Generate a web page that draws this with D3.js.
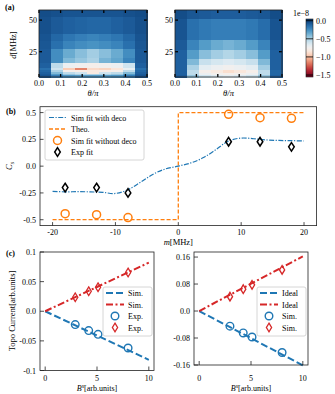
<!DOCTYPE html>
<html>
<head>
<meta charset="utf-8">
<script src="https://cdn.jsdelivr.net/npm/d3@7"></script>
<style>
body { margin: 0; background: #fff; }
text { font-family: "Liberation Serif", "DejaVu Serif", serif; }
</style>
</head>
<body>
<div id="chart"></div>
<script>
// ---- data ----
var thetaEdges = [0, 0.056, 0.111, 0.167, 0.222, 0.278, 0.333, 0.389, 0.444, 0.5];
var thetaTicks = [0, 0.1, 0.2, 0.3, 0.4, 0.5];
var dTicks = [25, 50];

// rows listed bottom -> top
var dEdges1 = [5, 6.6, 7.6, 9, 10.6, 12.7, 16.1, 20.8, 27.9, 33.7, 39.7, 52.9, 58];
var heat1 = [
	[-0.06, -0.2, -0.28, -0.3, -0.3, -0.3, -0.28, -0.2, -0.06],
	[-0.08, -0.3, -0.45, -0.5, -0.5, -0.5, -0.45, -0.3, -0.08],
	[-0.1, -0.4, -0.55, -0.6, -0.82, -0.6, -0.55, -0.4, -0.1],
	[-0.12, -0.5, -0.78, -0.8, -0.82, -0.8, -0.78, -0.55, -0.12],
	[-0.15, -0.6, -0.95, -1.15, -0.9, -0.92, -0.85, -0.7, -0.15],
	[-0.1, -0.55, -0.72, -0.75, -0.78, -0.75, -0.72, -0.6, -0.1],
	[-0.08, -0.25, -0.4, -0.45, -0.5, -0.38, -0.33, -0.22, -0.08],
	[-0.08, -0.25, -0.35, -0.42, -0.48, -0.42, -0.35, -0.25, -0.08],
	[-0.07, -0.15, -0.22, -0.25, -0.27, -0.25, -0.22, -0.15, -0.07],
	[-0.06, -0.12, -0.17, -0.2, -0.22, -0.2, -0.17, -0.12, -0.06],
	[-0.05, -0.08, -0.1, -0.11, -0.12, -0.12, -0.1, -0.08, -0.05],
	[-0.04, -0.05, -0.06, -0.06, -0.06, -0.06, -0.06, -0.05, -0.04]
];
var dEdges2 = [5, 7, 8.4, 11, 14.9, 20, 26.6, 34.5, 51.6, 58];
var heat2 = [
	[-0.08, -0.45, -0.6, -0.65, -0.68, -0.65, -0.6, -0.45, -0.1],
	[-0.1, -0.55, -0.72, -0.76, -0.78, -0.76, -0.72, -0.55, -0.12],
	[-0.1, -0.55, -0.78, -0.82, -0.88, -0.84, -0.78, -0.55, -0.12],
	[-0.1, -0.5, -0.68, -0.72, -0.75, -0.72, -0.68, -0.48, -0.1],
	[-0.1, -0.4, -0.58, -0.62, -0.65, -0.62, -0.58, -0.4, -0.1],
	[-0.1, -0.3, -0.42, -0.48, -0.52, -0.48, -0.42, -0.3, -0.1],
	[-0.08, -0.22, -0.3, -0.35, -0.38, -0.35, -0.3, -0.22, -0.08],
	[-0.06, -0.15, -0.18, -0.2, -0.2, -0.2, -0.18, -0.14, -0.06],
	[-0.04, -0.07, -0.08, -0.09, -0.09, -0.09, -0.08, -0.07, -0.04]
];
var cbTicks = [0, -0.5, -1.0, -1.5];
var cbLabels = ["0.0", "\u22120.5", "\u22121.0", "\u22121.5"];

// panel (b)
var bTicksX = [-20, -10, 0, 10, 20];
var bTicksY = [0.5, 0.25, 0, -0.25, -0.5];
var bTickLabelsY = ["0.5", "0.25", "0.0", "-0.25", "-0.5"];
var decoM = [-20, -18, -16, -14, -12, -10, -8, -6, -4, -2, 0, 2, 4, 6, 8, 10, 12, 14, 16, 18, 20];
var decoC = [-0.235, -0.24, -0.238, -0.24, -0.245, -0.255, -0.22, -0.15, -0.075, -0.025, 0, 0.03, 0.08, 0.155, 0.235, 0.262, 0.256, 0.245, 0.24, 0.238, 0.235];
var theoM = [-20, 0, 0, 20];
var theoC = [-0.5, -0.5, 0.5, 0.5];
var pointM = [-18, -13, -8, 8, 13, 18];
var noDecoC = [-0.444, -0.453, -0.48, 0.484, 0.453, 0.447];
var expC = [-0.2, -0.2, -0.25, 0.228, 0.228, 0.18];

// panel (c)
var cTicksX = [0, 5, 10];
var lineB = [0, 10];
var leftTicksY = [0.1, 0.05, 0, -0.05, -0.1];
var leftTickLabels = ["0.1", "0.05", "0.0", "-0.05", "-0.1"];
var leftSimBlue = [0, -0.082];
var leftSimRed = [0, 0.082];
var leftB = [2.9, 4.2, 5.1, 8.0];
var leftExpBlue = [-0.0225, -0.0327, -0.039, -0.062];
var leftExpRed = [0.0236, 0.0338, 0.0405, 0.0654];
var rightTicksY = [0.16, 0.08, 0, -0.08, -0.16];
var rightTickLabels = ["0.16", "0.08", "0.0", "-0.08", "-0.16"];
var rightIdealBlue = [0, -0.161];
var rightIdealRed = [0, 0.162];
var rightB = [2.97, 4.25, 5.1, 8.0];
var rightSimBlue = [-0.0448, -0.065, -0.077, -0.123];
var rightSimRed = [0.0427, 0.0648, 0.0776, 0.122];

// ---- drawing ----
var blue = "#1f77b4", orange = "#ff7f0e", red = "#d62728";
var vmin = -1.555, vmax = 0.047;
function heatColor(v) {
	return d3.interpolateRdBu((v - vmin) / (vmax - vmin));
}

var svg = d3.select("#chart").append("svg")
	.attr("width", 335).attr("height", 394);

function txt(x, y, s, size, anchor) {
	return svg.append("text").attr("x", x).attr("y", y)
		.attr("font-size", size).attr("text-anchor", anchor || "middle").text(s);
}

function frame(x0, x1, y0, y1) {
	svg.append("rect").attr("x", x0).attr("y", y0)
		.attr("width", x1 - x0).attr("height", y1 - y0)
		.attr("fill", "none").attr("stroke", "#222").attr("stroke-width", 0.8);
}

function diamond(w, h) {
	return "M0," + (-h) + "L" + w + ",0L0," + h + "L" + (-w) + ",0Z";
}

function drawHeat(x0, x1, y0, y1, edges, vals) {
	var x = d3.scaleLinear().domain([0, 0.5]).range([x0, x1]);
	var y = d3.scaleLinear().domain([5, 58]).range([y1, y0]);
	var g = svg.append("g").attr("shape-rendering", "crispEdges");
	vals.forEach(function (row, r) {
		row.forEach(function (v, c) {
			g.append("rect")
				.attr("x", x(thetaEdges[c]))
				.attr("y", y(edges[r + 1]))
				.attr("width", x(thetaEdges[c + 1]) - x(thetaEdges[c]) + 0.5)
				.attr("height", y(edges[r]) - y(edges[r + 1]) + 0.5)
				.attr("fill", heatColor(v));
		});
	});
	// inward ticks on all sides
	var tk = svg.append("g").attr("stroke", "#000").attr("stroke-width", 1.3);
	thetaTicks.forEach(function (t) {
		tk.append("line").attr("x1", x(t)).attr("x2", x(t)).attr("y1", y1).attr("y2", y1 - 3);
		tk.append("line").attr("x1", x(t)).attr("x2", x(t)).attr("y1", y0).attr("y2", y0 + 3);
		txt(x(t), y1 + 9, d3.format(".1f")(t), 8);
	});
	dTicks.forEach(function (d) {
		tk.append("line").attr("x1", x0).attr("x2", x0 + 3).attr("y1", y(d)).attr("y2", y(d));
		tk.append("line").attr("x1", x1).attr("x2", x1 - 3).attr("y1", y(d)).attr("y2", y(d));
		txt(x0 - 2, y(d) + 3, d, 8, "end");
	});
	frame(x0, x1, y0, y1);
	txt((x0 + x1) / 2, y1 + 19, "\u03b8/\u03c0", 8.5).attr("font-style", "italic");
}

// panel (a)
txt(5, 10, "(a)", 8, "start").attr("font-weight", "bold");
drawHeat(39, 147, 10, 77, dEdges1, heat1);
drawHeat(175, 282, 10, 77, dEdges2, heat2);
svg.append("text").attr("transform", "translate(16,45) rotate(-90)")
	.attr("text-anchor", "middle").attr("font-size", 8.5)
	.html('<tspan font-style="italic">d</tspan>[MHz]');

// colorbar
var cbY = d3.scaleLinear().domain([vmin, vmax]).range([77, 19]);
var defs = svg.append("defs");
var grad = defs.append("linearGradient").attr("id", "cbgrad")
	.attr("x1", 0).attr("y1", 1).attr("x2", 0).attr("y2", 0);
d3.range(0, 1.0001, 0.05).forEach(function (t) {
	grad.append("stop").attr("offset", t).attr("stop-color", d3.interpolateRdBu(t));
});
svg.append("rect").attr("x", 306).attr("y", 19).attr("width", 7).attr("height", 58)
	.attr("fill", "url(#cbgrad)").attr("stroke", "#222").attr("stroke-width", 0.6);
cbTicks.forEach(function (v, i) {
	svg.append("line").attr("x1", 306).attr("x2", 313).attr("y1", cbY(v)).attr("y2", cbY(v))
		.attr("stroke", "#000").attr("stroke-width", 0.8);
	txt(316, cbY(v) + 3, cbLabels[i], 8, "start");
});
txt(301, 16, "1e\u22128", 8);

// panel (b)
var bx0 = 40, bx1 = 316.6, by0 = 106.7, by1 = 225.6;
var xb = d3.scaleLinear().domain([-22, 22]).range([bx0, bx1]);
var yb = d3.scaleLinear().domain([-0.555, 0.555]).range([by1, by0]);
txt(6, 114, "(b)", 8, "start").attr("font-weight", "bold");

svg.append("path")
	.datum(theoM.map(function (m, i) { return [m, theoC[i]]; }))
	.attr("fill", "none").attr("stroke", orange).attr("stroke-width", 1.3)
	.attr("stroke-dasharray", "4,2")
	.attr("d", d3.line().x(function (d) { return xb(d[0]); }).y(function (d) { return yb(d[1]); }));

svg.append("path")
	.datum(decoM.map(function (m, i) { return [m, decoC[i]]; }))
	.attr("fill", "none").attr("stroke", blue).attr("stroke-width", 1.2)
	.attr("stroke-dasharray", "5,1.5,1.2,1.5")
	.attr("d", d3.line().curve(d3.curveCatmullRom)
		.x(function (d) { return xb(d[0]); }).y(function (d) { return yb(d[1]); }));

svg.selectAll(".nodeco").data(pointM).enter().append("circle")
	.attr("cx", function (d) { return xb(d); })
	.attr("cy", function (d, i) { return yb(noDecoC[i]); })
	.attr("r", 4).attr("fill", "none").attr("stroke", orange).attr("stroke-width", 1.5);

svg.selectAll(".expb").data(pointM).enter().append("path")
	.attr("transform", function (d, i) { return "translate(" + xb(d) + "," + yb(expC[i]) + ")"; })
	.attr("d", diamond(2.8, 4.3)).attr("fill", "none")
	.attr("stroke", "#000").attr("stroke-width", 1.5);

frame(bx0, bx1, by0, by1);
var bt = svg.append("g").attr("stroke", "#222").attr("stroke-width", 0.8);
bTicksX.forEach(function (t) {
	bt.append("line").attr("x1", xb(t)).attr("x2", xb(t)).attr("y1", by1).attr("y2", by1 - 3.5);
	txt(xb(t), by1 + 9.5, t, 8);
});
bTicksY.forEach(function (t, i) {
	bt.append("line").attr("x1", bx0).attr("x2", bx0 + 3.5).attr("y1", yb(t)).attr("y2", yb(t));
	txt(bx0 - 4, yb(t) + 3, bTickLabelsY[i], 8, "end");
});
svg.append("text").attr("x", (bx0 + bx1) / 2).attr("y", 245).attr("text-anchor", "middle")
	.attr("font-size", 8.5).html('<tspan font-style="italic">m</tspan>[MHz]');
svg.append("text").attr("transform", "translate(12,166) rotate(-90)")
	.attr("text-anchor", "middle").attr("font-size", 8.5)
	.html('<tspan font-style="italic">C</tspan><tspan font-style="italic" font-size="6" dy="2">s</tspan>');

// legend (b)
svg.append("rect").attr("x", 45).attr("y", 110).attr("width", 99).attr("height", 50).attr("rx", 2)
	.attr("fill", "#fff").attr("fill-opacity", 0.85).attr("stroke", "#ccc").attr("stroke-width", 0.8);
var lb = [117.5, 129, 140.5, 152];
svg.append("line").attr("x1", 49).attr("x2", 66).attr("y1", lb[0]).attr("y2", lb[0])
	.attr("stroke", blue).attr("stroke-width", 1.2).attr("stroke-dasharray", "5,1.5,1.2,1.5");
svg.append("line").attr("x1", 49).attr("x2", 66).attr("y1", lb[1]).attr("y2", lb[1])
	.attr("stroke", orange).attr("stroke-width", 1.3).attr("stroke-dasharray", "4,2");
svg.append("circle").attr("cx", 57.5).attr("cy", lb[2]).attr("r", 4)
	.attr("fill", "none").attr("stroke", orange).attr("stroke-width", 1.5);
svg.append("path").attr("transform", "translate(57.5," + lb[3] + ")").attr("d", diamond(2.8, 4.3))
	.attr("fill", "none").attr("stroke", "#000").attr("stroke-width", 1.5);
["Sim fit with deco", "Theo.", "Sim fit without deco", "Exp fit"].forEach(function (s, i) {
	txt(71, lb[i] + 3, s, 8, "start");
});

// panel (c)
txt(6, 256, "(c)", 8, "start").attr("font-weight", "bold");

function drawC(x0, x1, y1, yDomain, ticksY, tickLabels, lineBlue, lineRed, ptsB, ptsBlue, ptsRed, names) {
	var y0 = 252;
	var x = d3.scaleLinear().domain([-0.5, 10.5]).range([x0, x1]);
	var y = d3.scaleLinear().domain(yDomain).range([y1, y0]);
	var ln = d3.line().x(function (d) { return x(d[0]); }).y(function (d) { return y(d[1]); });
	svg.append("path").datum(lineB.map(function (b, i) { return [b, lineBlue[i]]; }))
		.attr("fill", "none").attr("stroke", blue).attr("stroke-width", 2)
		.attr("stroke-dasharray", "7,3").attr("d", ln);
	svg.append("path").datum(lineB.map(function (b, i) { return [b, lineRed[i]]; }))
		.attr("fill", "none").attr("stroke", red).attr("stroke-width", 2)
		.attr("stroke-dasharray", "7,2.5,2,2.5").attr("d", ln);
	ptsB.forEach(function (b, i) {
		svg.append("circle").attr("cx", x(b)).attr("cy", y(ptsBlue[i])).attr("r", 3.8)
			.attr("fill", "none").attr("stroke", blue).attr("stroke-width", 1.4);
		svg.append("path").attr("transform", "translate(" + x(b) + "," + y(ptsRed[i]) + ")")
			.attr("d", diamond(2.6, 4.3)).attr("fill", "none")
			.attr("stroke", red).attr("stroke-width", 1.3);
	});
	frame(x0, x1, y0, y1);
	var g = svg.append("g").attr("stroke", "#222").attr("stroke-width", 0.8);
	cTicksX.forEach(function (t) {
		g.append("line").attr("x1", x(t)).attr("x2", x(t)).attr("y1", y1).attr("y2", y1 - 4);
		txt(x(t), 381, t, 8);
	});
	ticksY.forEach(function (t, i) {
		g.append("line").attr("x1", x0).attr("x2", x0 + 4).attr("y1", y(t)).attr("y2", y(t));
		txt(x0 - 4, y(t) + 3, tickLabels[i], 8, "end");
	});
	svg.append("text").attr("x", (x0 + x1) / 2).attr("y", 390.5).attr("text-anchor", "middle")
		.attr("font-size", 8)
		.html('<tspan font-style="italic">B</tspan><tspan font-style="italic" font-size="5.5" dy="-3">x</tspan><tspan dy="3">[arb.units]</tspan>');
	// legend
	var lx = x1 - 51, ly = [293, 304.5, 316, 327.5];
	svg.append("rect").attr("x", lx).attr("y", 287).attr("width", 49).attr("height", 49).attr("rx", 2)
		.attr("fill", "#fff").attr("fill-opacity", 0.85).attr("stroke", "#ccc").attr("stroke-width", 0.8);
	svg.append("line").attr("x1", lx + 3).attr("x2", lx + 21).attr("y1", ly[0]).attr("y2", ly[0])
		.attr("stroke", blue).attr("stroke-width", 2).attr("stroke-dasharray", "7,3");
	svg.append("line").attr("x1", lx + 3).attr("x2", lx + 21).attr("y1", ly[1]).attr("y2", ly[1])
		.attr("stroke", red).attr("stroke-width", 2).attr("stroke-dasharray", "7,2.5,2,2.5");
	svg.append("circle").attr("cx", lx + 12).attr("cy", ly[2]).attr("r", 3.8)
		.attr("fill", "none").attr("stroke", blue).attr("stroke-width", 1.4);
	svg.append("path").attr("transform", "translate(" + (lx + 12) + "," + ly[3] + ")")
		.attr("d", diamond(2.6, 4.3)).attr("fill", "none").attr("stroke", red).attr("stroke-width", 1.3);
	names.forEach(function (s, i) {
		txt(lx + 25, ly[i] + 3, s, 8, "start");
	});
}

drawC(40, 154, 370.5, [-0.1, 0.1], leftTicksY, leftTickLabels, leftSimBlue, leftSimRed,
	leftB, leftExpBlue, leftExpRed, ["Sim.", "Sim.", "Exp.", "Exp."]);
drawC(194, 308, 365, [-0.16, 0.175], rightTicksY, rightTickLabels, rightIdealBlue, rightIdealRed,
	rightB, rightSimBlue, rightSimRed, ["Ideal", "Ideal", "Sim.", "Sim."]);

svg.append("text").attr("transform", "translate(15,311) rotate(-90)")
	.attr("text-anchor", "middle").attr("font-size", 8.5).text("Topo Current[arb.units]");
</script>
</body>
</html>
